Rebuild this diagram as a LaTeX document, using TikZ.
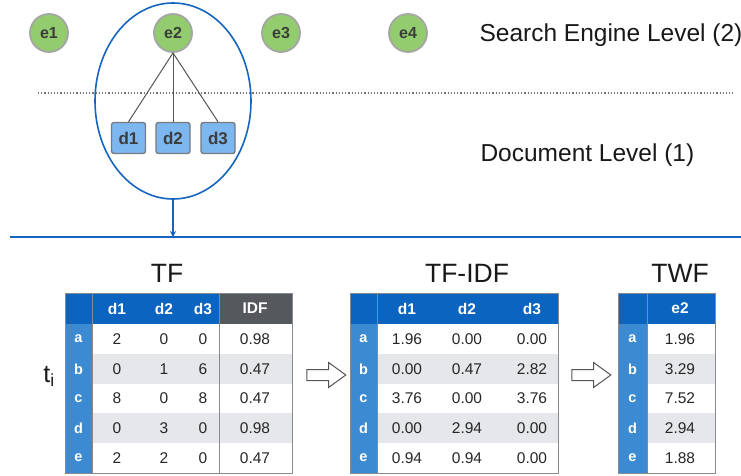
\documentclass[tikz,border=0pt]{standalone}
\usepackage{fontspec}
\setmainfont{Liberation Sans}
\usetikzlibrary{shapes.arrows,shapes.geometric,arrows.meta}
\definecolor{hdrblue}{RGB}{10,100,192}
\definecolor{lblblue}{RGB}{60,139,210}
\definecolor{stripe}{RGB}{230,231,235}
\definecolor{idfgray}{RGB}{85,88,93}
\definecolor{bordergray}{RGB}{135,137,142}
\definecolor{egreen}{RGB}{146,204,110}
\definecolor{ering}{RGB}{165,165,165}
\definecolor{dblue}{RGB}{125,183,240}
\definecolor{dring}{RGB}{120,122,128}
\definecolor{grpblue}{RGB}{21,101,192}
\definecolor{txtgray}{RGB}{60,60,60}
\definecolor{linegray}{RGB}{85,85,85}
\tikzset{
  enode/.style={circle,draw=ering,line width=1.8pt,fill=egreen,minimum size=38pt,inner sep=0,
    font=\fontsize{16}{16}\selectfont\bfseries,text=txtgray},
  dnode/.style={rectangle,rounded corners=2.5pt,draw=dring,line width=1.4pt,fill=dblue,
    minimum width=34pt,minimum height=31pt,inner sep=0,font=\fontsize{17}{17}\selectfont\bfseries,text=txtgray},
  level/.style={font=\fontsize{24.5}{24.5}\selectfont,anchor=west,text=black!90},
  title/.style={font=\fontsize{26.5}{26.5}\selectfont,text=black!90},
  cell/.style={font=\fontsize{15.5}{15.5}\selectfont,text=black!85,inner sep=0},
  hdr/.style={font=\fontsize{15.5}{15.5}\selectfont\bfseries,text=white,inner sep=0},
  lbl/.style={font=\fontsize{14.5}{14.5}\selectfont\bfseries,text=white,inner sep=0},
  tabline/.style={draw=bordergray,line width=0.9pt},
  hollow/.style={single arrow,draw=linegray,line width=1pt,fill=white,inner xsep=0pt,inner ysep=5pt,
    minimum height=39pt,single arrow head extend=7pt,single arrow tip angle=72},
}
\begin{document}
\begin{tikzpicture}[x=1pt,y=-1pt]
\useasboundingbox (0,0) rectangle (741,476);
% upper part
\coordinate (dl) at (38,93);
\coordinate (dr) at (733,93);
\draw[dotted,line width=1.2pt,black!55] (dl) -- (dr);
\node[enode] (e1) at (49,33) {e1};
\node[enode] (e2) at (173,33) {e2};
\node[enode] (e3) at (281,33) {e3};
\node[enode] (e4) at (408,33) {e4};
\node[dnode] (d1) at (128.5,138) {d1};
\node[dnode] (d2) at (173,138) {d2};
\node[dnode] (d3) at (218,138) {d3};
\draw[linegray,line width=1pt] (e2.south) -- (d1.north);
\draw[linegray,line width=1pt] (e2.south) -- (d2.north);
\draw[linegray,line width=1pt] (e2.south) -- (d3.north);
\node[ellipse,draw=grpblue,line width=1.6pt,minimum width=156pt,minimum height=196pt,inner sep=0] (grp) at (173,101) {};
\node[level] (sel) at (476,35) {Search Engine Level (2)};
\node[level] (dol) at (477,155) {Document Level (1)};
\coordinate (hl) at (10,237);
\coordinate (hr) at (741,237);
\coordinate (hm) at (173,237);
\draw[grpblue,line width=1.4pt] (hl) -- (hr);
\draw[grpblue,line width=1.4pt,-{Stealth[length=6pt,width=6pt]}] (grp.south) -- (hm);
% ---------- TF table
\node[title] (ttf) at (167,273) {TF};
\fill[hdrblue] (65,293) rectangle (219,324);
\fill[idfgray] (219,293) rectangle (292,324);
\fill[lblblue] (65,324) rectangle (92,473);
\fill[stripe] (92,354) rectangle (292,384);
\fill[stripe] (92,413) rectangle (292,443);
\draw[tabline] (65,293) rectangle (292,473);
\draw[tabline] (92,293) -- (92,473);
\draw[tabline] (219,293) -- (219,473);
\node[hdr] (tfh1) at (117,308.5) {d1};
\node[hdr] (tfh2) at (164,308.5) {d2};
\node[hdr] (tfh3) at (203,308.5) {d3};
\node[hdr] (tfh4) at (255,308.5) {IDF};
\foreach \r/\y/\l/\a/\b/\c/\d in {1/339/a/2/0/0/0.98,2/369/b/0/1/6/0.47,3/398.5/c/8/0/8/0.47,4/428/d/0/3/0/0.98,5/458/e/2/2/0/0.47}{
  \node[lbl] (tf-\r-0) at (78.5,\y) {\l};
  \node[cell] (tf-\r-1) at (117,\y) {\a};
  \node[cell] (tf-\r-2) at (164,\y) {\b};
  \node[cell] (tf-\r-3) at (203,\y) {\c};
  \node[cell] (tf-\r-4) at (255,\y) {\d};
}
\node[font=\fontsize{25}{25}\selectfont,text=black!90,inner sep=0] (ti) at (49,376) {t\textsubscript{i}};
% ---------- TF-IDF table
\node[title] (ttfidf) at (467,273) {TF-IDF};
\fill[hdrblue] (350,293) rectangle (558,324);
\fill[lblblue] (350,324) rectangle (377,473);
\fill[stripe] (377,354) rectangle (558,384);
\fill[stripe] (377,413) rectangle (558,443);
\draw[tabline] (350,293) rectangle (558,473);
\draw[tabline] (377,293) -- (377,473);
\node[hdr] (tih1) at (407,308.5) {d1};
\node[hdr] (tih2) at (467,308.5) {d2};
\node[hdr] (tih3) at (532,308.5) {d3};
\foreach \r/\y/\l/\a/\b/\c in {1/339/a/1.96/0.00/0.00,2/369/b/0.00/0.47/2.82,3/398.5/c/3.76/0.00/3.76,4/428/d/0.00/2.94/0.00,5/458/e/0.94/0.94/0.00}{
  \node[lbl] (ti-\r-0) at (363.5,\y) {\l};
  \node[cell] (ti-\r-1) at (407,\y) {\a};
  \node[cell] (ti-\r-2) at (467,\y) {\b};
  \node[cell] (ti-\r-3) at (532,\y) {\c};
}
% ---------- TWF table
\node[title] (ttwf) at (680,273) {TWF};
\fill[hdrblue] (618,293) rectangle (715,324);
\fill[lblblue] (618,324) rectangle (647,473);
\fill[stripe] (647,354) rectangle (715,384);
\fill[stripe] (647,413) rectangle (715,443);
\draw[tabline] (618,293) rectangle (715,473);
\draw[tabline] (647,293) -- (647,473);
\node[hdr] (twh1) at (680,308.5) {e2};
\foreach \r/\y/\l/\a in {1/339/a/1.96,2/369/b/3.29,3/398.5/c/7.52,4/428/d/2.94,5/458/e/1.88}{
  \node[lbl] (tw-\r-0) at (632.5,\y) {\l};
  \node[cell] (tw-\r-1) at (680,\y) {\a};
}
% ---------- hollow arrows
\node[hollow] (ar1) at (322.5,375) {};
\node[hollow] (ar2) at (587.5,375) {};
\end{tikzpicture}
\end{document}
